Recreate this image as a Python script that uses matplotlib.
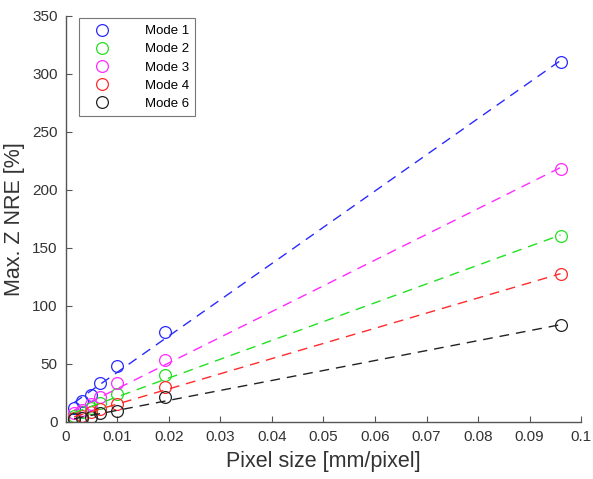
import numpy as np
import matplotlib
matplotlib.use("Agg")
import matplotlib.pyplot as plt

plt.rcParams['font.family'] = ['Liberation Sans', 'DejaVu Sans']

# pixel sizes (mm/pixel)
pixel_size = [0.0016, 0.0032, 0.0048, 0.0066, 0.0100, 0.0192, 0.096]

modes = ["Mode 1", "Mode 2", "Mode 3", "Mode 4", "Mode 6"]
mode1 = [12, 18, 23, 33, 48, 77, 310]
mode2 = [5, 8, 12, 16, 24, 40, 160]
mode3 = [7, 10, 15, 21, 33, 53, 218]
mode4 = [3, 5, 8, 11, 15, 30, 127]
mode6 = [2, 3, 4, 7, 9, 21, 83]
colors = ['#2a2aff', '#22e022', '#ff2aff', '#ff2a2a', '#222222']

fig = plt.figure(figsize=(5.93, 4.79), dpi=100)
ax = fig.add_axes([0.111, 0.12, 0.869, 0.847])

x = np.array(pixel_size)
for name, y, c in zip(modes, [mode1, mode2, mode3, mode4, mode6], colors):
    ax.plot(x, y, 'o', mfc='none', mec=c, ms=8.5, mew=0.9, label=name)
for y, c in zip([mode1, mode2, mode3, mode4, mode6], colors):
    p = np.polyfit(x, y, 1)
    xf = np.array([x.min(), x.max()])
    ax.plot(xf, np.polyval(p, xf), '--', color=c, lw=1.0, dashes=(7, 5))

ax.set_xlim(0, 0.1)
ax.set_ylim(0, 350)
ax.set_xticks(np.arange(0, 0.101, 0.01))
ax.set_xticklabels(['0', '0.01', '0.02', '0.03', '0.04', '0.05', '0.06',
                    '0.07', '0.08', '0.09', '0.1'])
ax.set_yticks(np.arange(0, 351, 50))
for s in ['top', 'right']:
    ax.spines[s].set_visible(False)
for s in ['left', 'bottom']:
    ax.spines[s].set_color('#555555')
    ax.spines[s].set_linewidth(1.0)
ax.tick_params(direction='in', length=4, colors='#555555', labelcolor='#333333',
               labelsize=11, width=0.8, pad=6)
ax.set_xlabel('Pixel size [mm/pixel]', fontsize=15.5, color='#333333', labelpad=5)
ax.set_ylabel('Max. Z NRE [%]', fontsize=15.5, color='#333333', labelpad=5)

leg = ax.legend(loc='upper left', bbox_to_anchor=(0.012, 1.01), fontsize=9.5,
                frameon=True, fancybox=False, edgecolor='#555555',
                handletextpad=2.0, borderpad=0.5, labelspacing=0.45,
                handlelength=2.5, markerfirst=True)
leg.get_frame().set_linewidth(0.8)

fig.savefig('out.png', dpi=100)
